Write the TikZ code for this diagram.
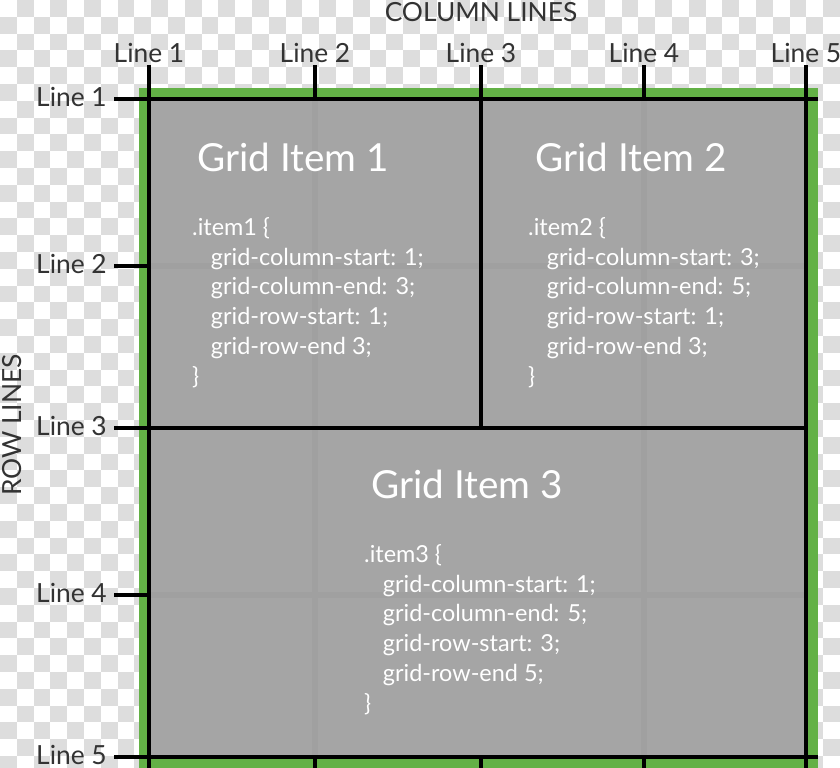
\documentclass[tikz,border=0pt]{standalone}
\usepackage{fontspec}
\setmainfont{Lato}
\usepackage{xcolor}
\usetikzlibrary{positioning}
\definecolor{chk}{HTML}{DDDDDD}
\definecolor{gridgreen}{HTML}{63B146}
\definecolor{itemgray}{HTML}{A5A5A5}
\definecolor{seamgray}{HTML}{A0A0A0}
\definecolor{labelgray}{HTML}{333333}

\begin{document}
\begin{tikzpicture}[x=0.3mm, y=-0.3mm,
  gline/.style={line width=3.4pt, black},
  seam/.style={line width=5pt, seamgray},
  lbl/.style={font=\fontsize{22.5}{26}\selectfont, text=labelgray, inner sep=0pt},
  ttl/.style={font=\fontsize{33}{38}\selectfont, text=white, inner sep=0pt},
  code/.style={font=\fontsize{20}{25.5}\selectfont, text=white, align=left, inner sep=0pt, anchor=north west}]
  \useasboundingbox (0,0) rectangle (840,768);
  \clip (0,0) rectangle (840,768);
  % checkerboard behind everything
  \fill[white] (0,0) rectangle (840,768);
  \foreach \j in {0,...,45}{
    \pgfmathtruncatemacro{\off}{mod(\j+1,2)}
    \foreach \i in {0,...,24}
      \fill[chk] ({(2*\i+\off)*16.8},{\j*16.8}) rectangle ++(16.8,16.8);
  }
  % container
  \fill[gridgreen] (139,88) rectangle (818,780);
  \fill[itemgray] (149,99) rectangle (806,757);
  \draw[seam] (315,99) -- (315,757);
  \draw[seam] (644,99) -- (644,757);
  \draw[seam] (149,266) -- (806,266);
  \draw[seam] (149,595) -- (806,595);
  % grid lines
  \foreach \x/\n in {149/1,315/2,481/3,644/4,806/5}{
    \coordinate (c\n) at (\x,99);
    \draw[gline] (\x,65) -- (c\n);
    \draw[gline] (\x,757) -- (\x,775);
    \node[lbl, anchor=base] (cl\n) at (\x,62) {Line \n};
  }
  \foreach \y/\n in {99/1,266/2,428/3,595/4,757/5}{
    \coordinate (r\n) at (149,\y);
    \draw[gline] (114,\y) -- (r\n);
    \node[lbl, anchor=east] (rl\n) at (107,\y-2) {Line \n};
  }
  \draw[gline] (149,65) -- (149,775);
  \draw[gline] (806,65) -- (806,775);
  \draw[gline] (114,99) -- (818,99);
  \draw[gline] (114,757) -- (818,757);
  \draw[gline] (114,428) -- (806,428);
  \draw[gline] (481,99) -- (481,428);
  % axis titles
  \node[lbl] (coltitle) at (481,12) {COLUMN LINES};
  \node[lbl, rotate=90] (rowtitle) at (12,425) {ROW LINES};
  % items
  \node[ttl] (t1) at (293,157) {Grid Item 1};
  \node[ttl] (t2) at (631,157) {Grid Item 2};
  \node[ttl] (t3) at (467,484) {Grid Item 3};
  \node[code] (k1) at (192,217) {.item1 \{\\
    \hspace*{16pt}grid-column-start: 1;\\
    \hspace*{16pt}grid-column-end: 3;\\
    \hspace*{16pt}grid-row-start: 1;\\
    \hspace*{16pt}grid-row-end 3;\\
    \}};
  \node[code] (k2) at (528,217) {.item2 \{\\
    \hspace*{16pt}grid-column-start: 3;\\
    \hspace*{16pt}grid-column-end: 5;\\
    \hspace*{16pt}grid-row-start: 1;\\
    \hspace*{16pt}grid-row-end 3;\\
    \}};
  \node[code] (k3) at (364,544) {.item3 \{\\
    \hspace*{16pt}grid-column-start: 1;\\
    \hspace*{16pt}grid-column-end: 5;\\
    \hspace*{16pt}grid-row-start: 3;\\
    \hspace*{16pt}grid-row-end 5;\\
    \}};
\end{tikzpicture}
\end{document}
